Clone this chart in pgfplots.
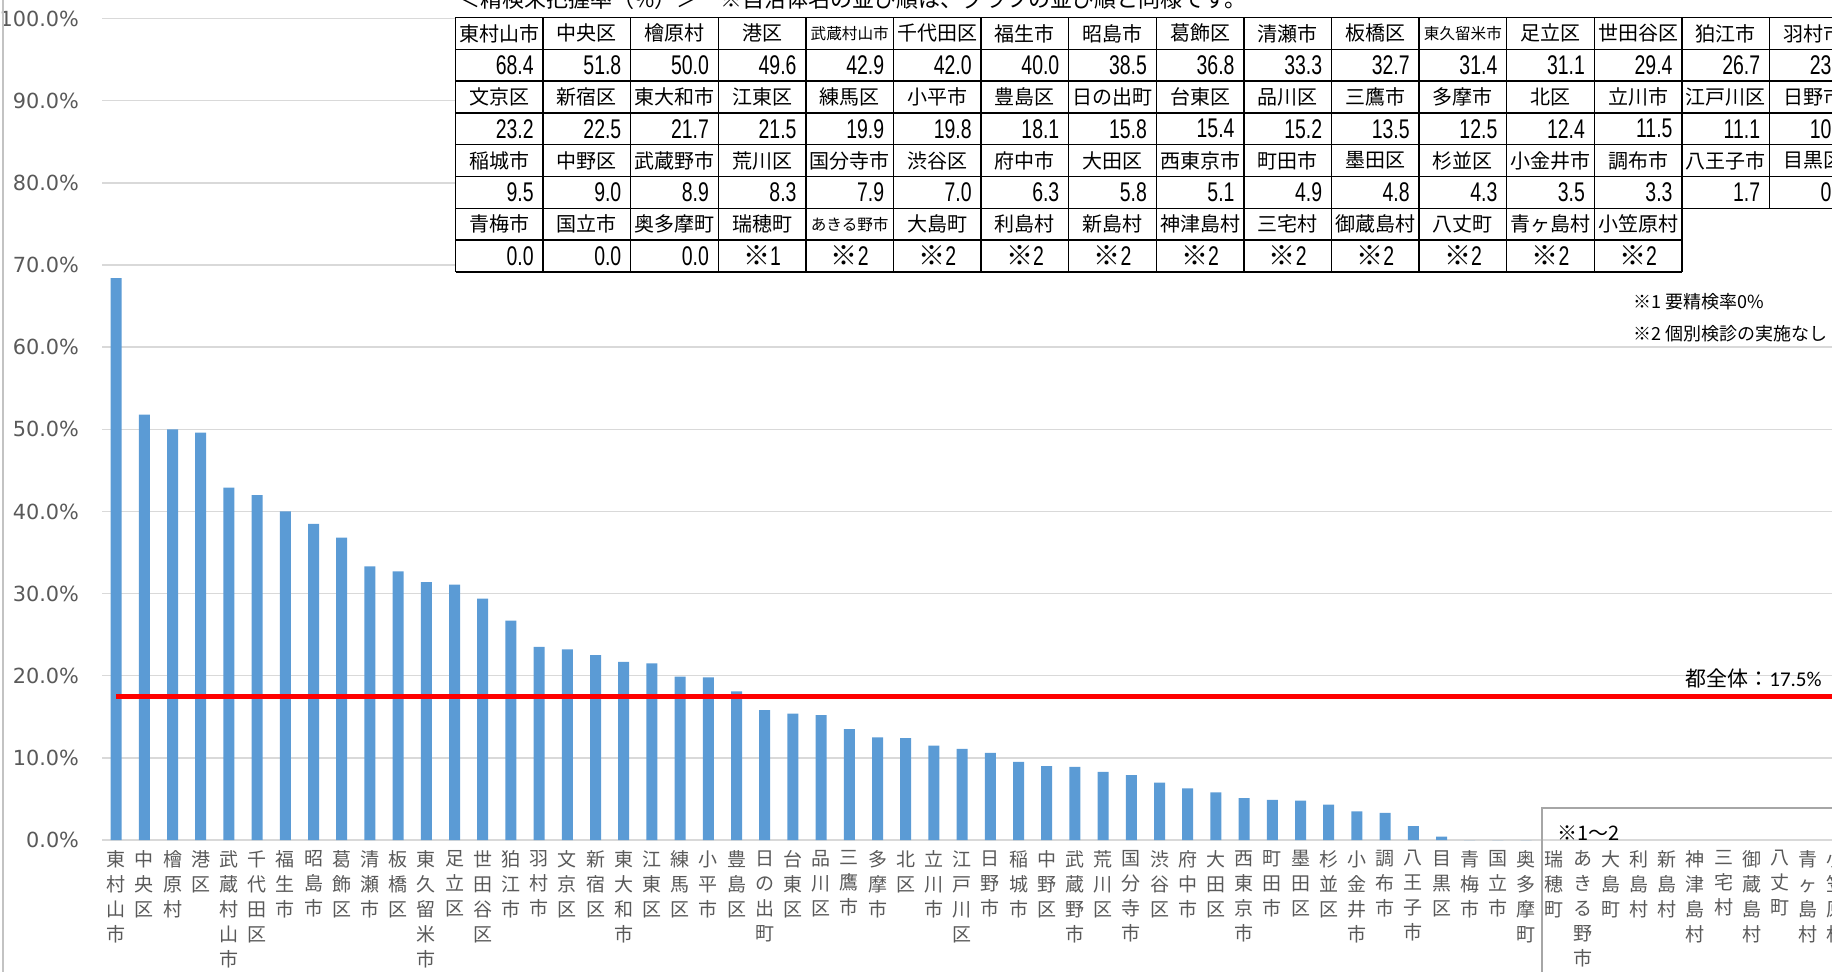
\documentclass[border=0pt]{standalone}
\usepackage{fontspec}
\usepackage{pgfplots}
\pgfplotsset{compat=1.18}
\setmainfont{Noto Sans CJK JP}
\newfontfamily\jp{Noto Sans CJK JP}
\newfontfamily\dv{DejaVu Sans}
\newfontfamily\carl{Carlito}
\newfontfamily\numf[FakeStretch=0.72]{Liberation Sans}

\definecolor{barblue}{HTML}{5B9BD5}
\definecolor{gridgrey}{HTML}{D9D9D9}
\definecolor{txtgrey}{HTML}{595959}
\definecolor{boxgrey}{HTML}{A6A6A6}

\newcommand\sm[1]{{\fontsize{7.8}{9}\selectfont #1}}
% one name row + one value row of the table (pixel units, 1px = 0.5pt)
\newcommand\tabrow[2]{%
  \foreach \n/\v [count=\k from 0] in {#2} {
    \node[font=\jp\fontsize{10}{12}\selectfont, inner sep=0pt]
      at ({455.5+87.6*\k+43.8},{17.5+63.6*#1+15.9}) {\n};
    \node[anchor=east, inner sep=0pt, font=\numf\fontsize{13.5}{14}\selectfont]
      at ({455.5+87.6*(\k+1)-9},{17.5+63.6*#1+47.7}) {\v};
  }}

\begin{document}
\begin{tikzpicture}
\useasboundingbox (0,0) rectangle (916pt,-486pt);
\begin{axis}[
  at={(51pt,-420pt)}, anchor=south west,
  scale only axis, width=874.2pt, height=410.7pt,
  xmin=-0.5, xmax=61.5, ymin=0, ymax=100,
  axis lines*=left,
  x axis line style={gridgrey, line width=0.75pt},
  y axis line style={draw=none},
  major tick length=0pt,
  ymajorgrids, grid style={gridgrey, line width=0.75pt},
  ytick={0,10,...,100},
  /pgf/number format/assume math mode=true,
  yticklabel={\pgfmathprintnumber[fixed,fixed zerofill,precision=1]{\tick}\%},
  yticklabel style={font=\dv\fontsize{10.4}{12}\selectfont, text=txtgrey, inner sep=0pt, xshift=-11.3pt},
  xtick={0,...,61},
  xticklabels={{東\\村\\山\\市},{中\\央\\区},{檜\\原\\村},{港\\区},{武\\蔵\\村\\山\\市},{千\\代\\田\\区},{福\\生\\市},{昭\\島\\市},{葛\\飾\\区},{清\\瀬\\市},{板\\橋\\区},{東\\久\\留\\米\\市},{足\\立\\区},{世\\田\\谷\\区},{狛\\江\\市},{羽\\村\\市},
    {文\\京\\区},{新\\宿\\区},{東\\大\\和\\市},{江\\東\\区},{練\\馬\\区},{小\\平\\市},{豊\\島\\区},{日\\の\\出\\町},{台\\東\\区},{品\\川\\区},{三\\鷹\\市},{多\\摩\\市},{北\\区},{立\\川\\市},{江\\戸\\川\\区},{日\\野\\市},
    {稲\\城\\市},{中\\野\\区},{武\\蔵\\野\\市},{荒\\川\\区},{国\\分\\寺\\市},{渋\\谷\\区},{府\\中\\市},{大\\田\\区},{西\\東\\京\\市},{町\\田\\市},{墨\\田\\区},{杉\\並\\区},{小\\金\\井\\市},{調\\布\\市},{八\\王\\子\\市},{目\\黒\\区},
    {青\\梅\\市},{国\\立\\市},{奥\\多\\摩\\町},{瑞\\穂\\町},{あ\\き\\る\\野\\市},{大\\島\\町},{利\\島\\村},{新\\島\\村},{神\\津\\島\\村},{三\\宅\\村},{御\\蔵\\島\\村},{八\\丈\\町},{青\\ヶ\\島\\村},{小\\笠\\原\\村}},
  xticklabel style={font=\jp\fontsize{9.5}{12.5}\selectfont, text=txtgrey, align=center, anchor=north, inner sep=0pt, yshift=-5pt},
]
\addplot[ybar, bar width=5.5pt, fill=barblue, draw=none] coordinates {
  (0,68.4) (1,51.8) (2,50.0) (3,49.6) (4,42.9) (5,42.0) (6,40.0) (7,38.5)
  (8,36.8) (9,33.3) (10,32.7) (11,31.4) (12,31.1) (13,29.4) (14,26.7) (15,23.5)
  (16,23.2) (17,22.5) (18,21.7) (19,21.5) (20,19.9) (21,19.8) (22,18.1) (23,15.8)
  (24,15.4) (25,15.2) (26,13.5) (27,12.5) (28,12.4) (29,11.5) (30,11.1) (31,10.6)
  (32,9.5) (33,9.0) (34,8.9) (35,8.3) (36,7.9) (37,7.0) (38,6.3) (39,5.8)
  (40,5.1) (41,4.9) (42,4.8) (43,4.3) (44,3.5) (45,3.3) (46,1.7) (47,0.4)
  (48,0) (49,0) (50,0)
};
% Tokyo overall
\addplot[red, line width=2.6pt] coordinates {(0,17.5) (61.5,17.5)};
\end{axis}

\begin{scope}[x=0.5pt, y=-0.5pt]
  \draw[gridgrey!90!black, line width=0.6pt] (3,0) -- (3,972);
  % table picture (white background)
  \fill[white] (455,-5) rectangle (1840,273);
  \node[anchor=base west, inner sep=0pt, font=\jp\fontsize{11}{13}\selectfont]
    at (458,8) {＜精検未把握率（\%）＞　※自治体名の並び順は、グラフの並び順と同様です。};
  \draw[line width=0.7pt]
    \foreach \r in {0,...,6} { (455.5,{17.5+31.8*\r}) -- (1860,{17.5+31.8*\r}) }
    \foreach \r in {7,8} { (455.5,{17.5+31.8*\r}) -- (1681.9,{17.5+31.8*\r}) }
    \foreach \k in {0,...,16} { ({455.5+87.6*\k},17.5) -- ({455.5+87.6*\k},208.3) }
    \foreach \k in {0,...,14} { ({455.5+87.6*\k},208.3) -- ({455.5+87.6*\k},271.9) };
  \tabrow{0}{東村山市/68.4,中央区/51.8,檜原村/50.0,港区/49.6,\sm{武蔵村山市}/42.9,千代田区/42.0,福生市/40.0,昭島市/38.5,葛飾区/36.8,清瀬市/33.3,板橋区/32.7,\sm{東久留米市}/31.4,足立区/31.1,世田谷区/29.4,狛江市/26.7,羽村市/23.5}
  \tabrow{1}{文京区/23.2,新宿区/22.5,東大和市/21.7,江東区/21.5,練馬区/19.9,小平市/19.8,豊島区/18.1,日の出町/15.8,台東区/15.4,品川区/15.2,三鷹市/13.5,多摩市/12.5,北区/12.4,立川市/11.5,江戸川区/11.1,日野市/10.6}
  \tabrow{2}{稲城市/9.5,中野区/9.0,武蔵野市/8.9,荒川区/8.3,国分寺市/7.9,渋谷区/7.0,府中市/6.3,大田区/5.8,西東京市/5.1,町田市/4.9,墨田区/4.8,杉並区/4.3,小金井市/3.5,調布市/3.3,八王子市/1.7,目黒区/0.4}
  \foreach \n [count=\k from 0] in {青梅市,国立市,奥多摩町,瑞穂町,\sm{あきる野市},大島町,利島村,新島村,神津島村,三宅村,御蔵島村,八丈町,青ヶ島村,小笠原村}
    \node[font=\jp\fontsize{10}{12}\selectfont, inner sep=0pt] at ({455.5+87.6*\k+43.8},{17.5+190.8+15.9}) {\n};
  \foreach \v [count=\k from 0] in {0.0,0.0,0.0}
    \node[anchor=east, inner sep=0pt, font=\numf\fontsize{13.5}{14}\selectfont] at ({455.5+87.6*(\k+1)-9},{17.5+190.8+47.7}) {\v};
  \foreach \v [count=\k from 3] in {1,2,2,2,2,2,2,2,2,2,2}
    \node[inner sep=0pt, font=\numf\fontsize{13.5}{14}\selectfont] at ({455.5+87.6*\k+43.8},{17.5+190.8+47.7}) {{\jp ※}\v};
  % notes
  \node[anchor=west, inner sep=0pt, font=\jp\fontsize{9}{11}\selectfont] at (1633,302) {※1 要精検率0\%};
  \node[anchor=west, inner sep=0pt, font=\jp\fontsize{9}{11}\selectfont] at (1633,334) {※2 個別検診の実施なし};
  \node[anchor=base east, inner sep=0pt, font=\jp\fontsize{10.5}{12}\selectfont] at (1822,687) {都全体：{\carl 17.5\%}};
  % box round the groups without a rate
  \draw[boxgrey, line width=0.75pt] (1542,1000) -- (1542,808) -- (1860,808);
  \node[anchor=base west, inner sep=0pt, font=\jp\fontsize{10}{12}\selectfont] at (1557,840) {※1〜2};
\end{scope}
\end{tikzpicture}
\end{document}
